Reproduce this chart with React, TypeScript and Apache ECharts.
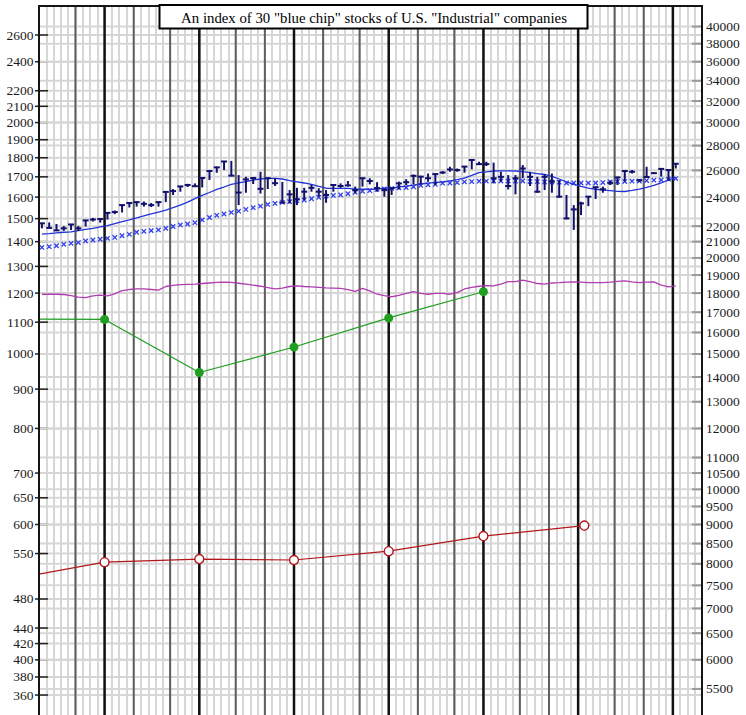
import React, { useEffect, useRef } from "react";
import * as echarts from "echarts";

const TITLE = 'An index of 30 "blue chip" stocks of U.S. "Industrial" companies';
const WEEKS = 91;
const WEEK_OFFSET = 0.4;
const LEFT_MIN = 339.1;
const LEFT_MAX = 2836;
const RIGHT_FACTOR = 15;

const leftTicks = [2600, 2400, 2200, 2100, 2000, 1900, 1800, 1700, 1600, 1500, 1400, 1300, 1200, 1100, 1000, 900, 800, 700, 650, 600, 550, 480, 440, 420, 400, 380, 360];
const rightTicks = [40000, 38000, 36000, 34000, 32000, 30000, 28000, 26000, 24000, 22000, 21000, 20000, 19000, 18000, 17000, 16000, 15000, 14000, 13000, 12000, 11000, 10500, 10000, 9500, 9000, 8500, 8000, 7500, 7000, 6500, 6000, 5500];

const monthWeeks = [5, 13, 18, 27, 31, 39, 44, 52, 57, 66, 70, 79, 83];
const quarterWeeks = [9, 22, 35, 48, 61, 74, 87];

const highs = [
  1481, 1483, 1476, 1467, 1476, 1467, 1494, 1503, 1501, 1528,
  1537, 1565, 1574, 1579, 1579, 1572, 1579, 1627, 1639, 1654,
  1665, 1667, 1697, 1732, 1752, 1783, 1783, 1709, 1700, 1697,
  1726, 1696, 1693, 1674, 1634, 1645, 1645, 1662, 1643, 1634,
  1662, 1667, 1679, 1651, 1696, 1693, 1673, 1643, 1645, 1676,
  1688, 1712, 1705, 1717, 1717, 1729, 1752, 1743, 1756, 1792,
  1779, 1779, 1774, 1726, 1709, 1709, 1761, 1726, 1700, 1714,
  1717, 1684, 1610, 1562, 1578, 1605, 1651, 1651, 1681, 1700,
  1731, 1735, 1688, 1752, 1724, 1743, 1738, 1770,
];
const lows = [
  1457, 1457, 1446, 1446, 1450, 1446, 1465, 1487, 1482, 1496,
  1520, 1528, 1551, 1555, 1555, 1553, 1555, 1576, 1610, 1626,
  1649, 1651, 1647, 1684, 1721, 1735, 1704, 1562, 1621, 1664,
  1617, 1639, 1654, 1572, 1570, 1562, 1586, 1626, 1602, 1573,
  1626, 1645, 1651, 1618, 1651, 1662, 1626, 1602, 1610, 1637,
  1659, 1662, 1662, 1675, 1659, 1714, 1726, 1726, 1721, 1739,
  1761, 1756, 1667, 1675, 1637, 1613, 1693, 1654, 1621, 1634,
  1621, 1597, 1497, 1450, 1516, 1557, 1591, 1621, 1659, 1659,
  1676, 1717, 1676, 1696, 1714, 1701, 1679, 1743,
];
const closes = [
  1479, 1459, 1448, 1457, 1474, 1457, 1492, 1496, 1498, 1526,
  1530, 1562, 1572, 1576, 1568, 1562, 1576, 1625, 1629, 1652,
  1659, 1653, 1694, 1730, 1749, 1780, 1706, 1622, 1687, 1694,
  1640, 1693, 1668, 1574, 1613, 1589, 1626, 1645, 1626, 1610,
  1659, 1654, 1657, 1634, 1693, 1679, 1643, 1634, 1643, 1667,
  1673, 1705, 1701, 1693, 1714, 1722, 1738, 1735, 1753, 1788,
  1766, 1766, 1693, 1700, 1654, 1693, 1743, 1700, 1626, 1700,
  1676, 1602, 1501, 1542, 1570, 1602, 1648, 1638, 1670, 1697,
  1730, 1726, 1682, 1699, 1719, 1741, 1735, 1768,
];
const crossAverage = [
  1376, 1379, 1383, 1389, 1393, 1396, 1403, 1407, 1410, 1414,
  1418, 1425, 1431, 1440, 1444, 1447, 1450, 1457, 1465, 1472,
  1476, 1482, 1494, 1505, 1515, 1521, 1528, 1534, 1542, 1550,
  1557, 1565, 1570, 1575, 1578, 1583, 1586, 1592, 1599, 1605,
  1608, 1611, 1616, 1623, 1628, 1631, 1637, 1640, 1642, 1645,
  1646, 1650, 1657, 1660, 1662, 1668, 1669, 1671, 1675, 1676,
  1678, 1678, 1679, 1679, 1679, 1679, 1679, 1676, 1676, 1674,
  1674, 1673, 1669, 1669, 1669, 1669, 1669, 1671, 1674, 1676,
  1676, 1678, 1679, 1681, 1683, 1684, 1688, 1691,
];
const lineAverage = [
  1432, 1434, 1437, 1440, 1442, 1447, 1452, 1457, 1463, 1469,
  1478, 1487, 1494, 1503, 1512, 1521, 1530, 1539, 1550, 1562,
  1576, 1593, 1608, 1622, 1637, 1649, 1662, 1669, 1676, 1684,
  1689, 1692, 1692, 1689, 1681, 1675, 1669, 1662, 1652, 1643,
  1642, 1642, 1642, 1639, 1638, 1638, 1639, 1643, 1644, 1648,
  1653, 1658, 1664, 1668, 1672, 1674, 1680, 1686, 1694, 1707,
  1722, 1726, 1730, 1731, 1731, 1730, 1727, 1722, 1717, 1712,
  1702, 1689, 1674, 1662, 1652, 1643, 1638, 1634, 1631, 1628,
  1627, 1632, 1639, 1647, 1657, 1669, 1684, 1697,
];
const magentaValues = [
  1196, 1196, 1196, 1195, 1191, 1186, 1184, 1190, 1193, 1190,
  1197, 1209, 1213, 1215, 1215, 1213, 1211, 1224, 1228, 1231,
  1232, 1233, 1235, 1237, 1239, 1240, 1239, 1236, 1233, 1229,
  1225, 1220, 1215, 1218, 1224, 1226, 1224, 1223, 1221, 1219,
  1218, 1217, 1213, 1206, 1217, 1208, 1196, 1191, 1187, 1192,
  1199, 1205, 1199, 1196, 1199, 1199, 1196, 1202, 1215, 1221,
  1225, 1227, 1226, 1233, 1242, 1242, 1248, 1242, 1235, 1233,
  1237, 1238, 1240, 1241, 1240, 1238, 1238, 1238, 1240, 1243,
  1245, 1241, 1238, 1240, 1241, 1229, 1223, 1226,
];
const greenWeeks = [0, 9, 22, 35, 48, 61];
const greenValues = [1110, 1109, 946, 1021, 1114, 1205];
const redWeeks = [0, 9, 22, 35, 48, 61, 74.85];
const redValues = [517, 536, 541, 539.5, 554, 579.5, 598];

const FONT = '"Liberation Serif", "Times New Roman", serif';
const NAVY = "#12126e";
const CROSS_BLUE = "#3040ee";
const LINE_BLUE = "#2233d6";
const MAGENTA = "#b03cb0";
const GREEN = "#1f9e1f";
const RED = "#b3161b";
const GRID_GRAY = "#d6d6d6";

function tickSeries(ticks: number[], axisIndex: number, side: "left" | "right") {
  return {
    type: "custom",
    xAxisIndex: 0,
    yAxisIndex: axisIndex,
    clip: false,
    silent: true,
    z: 1,
    data: ticks.map((v) => [0, v]),
    encode: { x: 0, y: 1 },
    renderItem: (params: any, api: any) => {
      const cs = params.coordSys;
      const v = api.value(1);
      const y = api.coord([0, v])[1];
      const left = cs.x;
      const right = cs.x + cs.width;
      const children: any[] = [
        { type: "line", shape: { x1: left + 1, y1: y, x2: right - 1, y2: y }, style: { stroke: GRID_GRAY, lineWidth: 2 } },
      ];
      if (side === "left") {
        children.push({ type: "line", shape: { x1: left - 4, y1: y, x2: left + 9, y2: y }, style: { stroke: "#222", lineWidth: 1.5 } });
        children.push({
          type: "text",
          x: left - 5.5,
          y,
          style: { text: String(v), align: "right", verticalAlign: "middle", fontSize: 13.5, fontFamily: FONT, fill: "#1a1a1a" },
        });
      } else {
        children.push({ type: "line", shape: { x1: right - 10, y1: y, x2: right, y2: y }, style: { stroke: "#999", lineWidth: 2 } });
        children.push({
          type: "text",
          x: right + 4,
          y,
          style: { text: String(v), align: "left", verticalAlign: "middle", fontSize: 13.5, fontFamily: FONT, fill: "#1a1a1a" },
        });
      }
      return { type: "group", children };
    },
  };
}

function buildOption(): any {
  const weekLines = [
    ...monthWeeks.map((w) => [w, 0]),
    ...quarterWeeks.map((w) => [w, 1]),
  ];
  return {
    animation: false,
    backgroundColor: "#ffffff",
    grid: { left: 39, right: 44, top: 6, bottom: 0, show: false, containLabel: false },
    xAxis: {
      type: "value",
      min: 0,
      max: WEEKS,
      interval: 1,
      axisLine: { show: false },
      axisTick: { show: false },
      axisLabel: { show: false },
      splitLine: { show: true, showMinLine: false, showMaxLine: false, lineStyle: { color: GRID_GRAY, width: 2 } },
    },
    yAxis: [
      {
        type: "log",
        min: LEFT_MIN,
        max: LEFT_MAX,
        axisLine: { show: false },
        axisTick: { show: false },
        axisLabel: { show: false },
        splitLine: { show: false },
      },
      {
        type: "log",
        min: LEFT_MIN * RIGHT_FACTOR,
        max: LEFT_MAX * RIGHT_FACTOR,
        axisLine: { show: false },
        axisTick: { show: false },
        axisLabel: { show: false },
        splitLine: { show: false },
      },
    ],
    graphic: {
      elements: [
        {
          type: "rect",
          z: 100,
          zlevel: 0,
          shape: { x: 159.5, y: 5, width: 428, height: 23.5 },
          style: { fill: "#ffffff", stroke: "#000", lineWidth: 2 },
        },
        {
          type: "text",
          z: 101,
          zlevel: 0,
          x: 374,
          y: 17.5,
          style: { text: TITLE, align: "center", verticalAlign: "middle", fontSize: 14.8, fontFamily: FONT, fill: "#000" },
        },
      ],
    },
    series: [
      tickSeries(leftTicks, 0, "left"),
      tickSeries(rightTicks, 1, "right"),
      {
        type: "custom",
        clip: false,
        silent: true,
        z: 2,
        data: weekLines,
        encode: { x: 0 },
        renderItem: (params: any, api: any) => {
          const cs = params.coordSys;
          const w = api.value(0);
          const kind = api.value(1);
          const x = api.coord([w, LEFT_MIN])[0];
          return {
            type: "line",
            shape: { x1: x, y1: cs.y, x2: x, y2: cs.y + cs.height },
            style: kind === 1 ? { stroke: "#111", lineWidth: 2.5 } : { stroke: "#5e5e5e", lineWidth: 2 },
          };
        },
      },
      {
        type: "custom",
        clip: false,
        silent: true,
        z: 10,
        data: [[0, LEFT_MAX]],
        encode: { x: 0, y: 1 },
        renderItem: (params: any) => {
          const cs = params.coordSys;
          return {
            type: "polyline",
            shape: {
              points: [
                [cs.x, cs.y + cs.height + 5],
                [cs.x, cs.y],
                [cs.x + cs.width, cs.y],
                [cs.x + cs.width, cs.y + cs.height + 5],
              ],
            },
            style: { stroke: "#151515", lineWidth: 2, fill: null },
          };
        },
      },
      {
        name: "magenta",
        type: "line",
        z: 3,
        data: magentaValues.map((v, i) => [i + WEEK_OFFSET, v]),
        showSymbol: false,
        lineStyle: { color: MAGENTA, width: 1.3 },
        itemStyle: { color: MAGENTA },
      },
      {
        name: "green",
        type: "line",
        z: 4,
        data: greenValues.map((v, i) => (i === 0 ? { value: [greenWeeks[i], v], symbol: "none" } : [greenWeeks[i], v])),
        symbol: "circle",
        symbolSize: 9,
        showSymbol: true,
        lineStyle: { color: GREEN, width: 1.2 },
        itemStyle: { color: GREEN },
      },
      {
        name: "red",
        type: "line",
        z: 4,
        data: redValues.map((v, i) => (i === 0 ? { value: [redWeeks[i], v], symbol: "none" } : [redWeeks[i], v])),
        symbol: "circle",
        symbolSize: 9,
        showSymbol: true,
        lineStyle: { color: RED, width: 1.2 },
        itemStyle: { color: "#ffffff", borderColor: RED, borderWidth: 1.4 },
      },
      {
        name: "crossAverage",
        type: "custom",
        z: 4,
        data: crossAverage.map((v, i) => [i + WEEK_OFFSET, v]),
        encode: { x: 0, y: 1 },
        renderItem: (params: any, api: any) => {
          const p = api.coord([api.value(0), api.value(1)]);
          const d = 2.2;
          return {
            type: "group",
            children: [
              { type: "line", shape: { x1: p[0] - d, y1: p[1] - d, x2: p[0] + d, y2: p[1] + d }, style: { stroke: CROSS_BLUE, lineWidth: 1.3 } },
              { type: "line", shape: { x1: p[0] - d, y1: p[1] + d, x2: p[0] + d, y2: p[1] - d }, style: { stroke: CROSS_BLUE, lineWidth: 1.3 } },
            ],
          };
        },
      },
      {
        name: "lineAverage",
        type: "line",
        z: 5,
        data: lineAverage.map((v, i) => [i + WEEK_OFFSET, v]),
        showSymbol: false,
        lineStyle: { color: LINE_BLUE, width: 1.3 },
        itemStyle: { color: LINE_BLUE },
      },
      {
        name: "weekly",
        type: "custom",
        z: 6,
        data: highs.map((h, i) => [i + WEEK_OFFSET, lows[i], h, closes[i]]),
        encode: { x: 0, y: [1, 2, 3] },
        renderItem: (params: any, api: any) => {
          const x = api.value(0);
          const pLo = api.coord([x, api.value(1)]);
          const pHi = api.coord([x, api.value(2)]);
          const pCl = api.coord([x, api.value(3)]);
          return {
            type: "group",
            children: [
              { type: "line", shape: { x1: pHi[0], y1: pHi[1], x2: pLo[0], y2: pLo[1] }, style: { stroke: NAVY, lineWidth: 2 } },
              { type: "line", shape: { x1: pCl[0] - 3, y1: pCl[1], x2: pCl[0] + 3, y2: pCl[1] }, style: { stroke: NAVY, lineWidth: 2 } },
            ],
          };
        },
      },
    ],
  };
}

export default function App() {
  const ref = useRef<HTMLDivElement>(null);
  useEffect(() => {
    if (!ref.current) return;
    const chart = echarts.init(ref.current, undefined, { renderer: "svg" });
    chart.setOption(buildOption());
    return () => chart.dispose();
  }, []);
  return (
    <div
      ref={ref}
      style={{ position: "fixed", left: 0, top: 0, width: 746, height: 715, background: "#fff" }}
    />
  );
}
